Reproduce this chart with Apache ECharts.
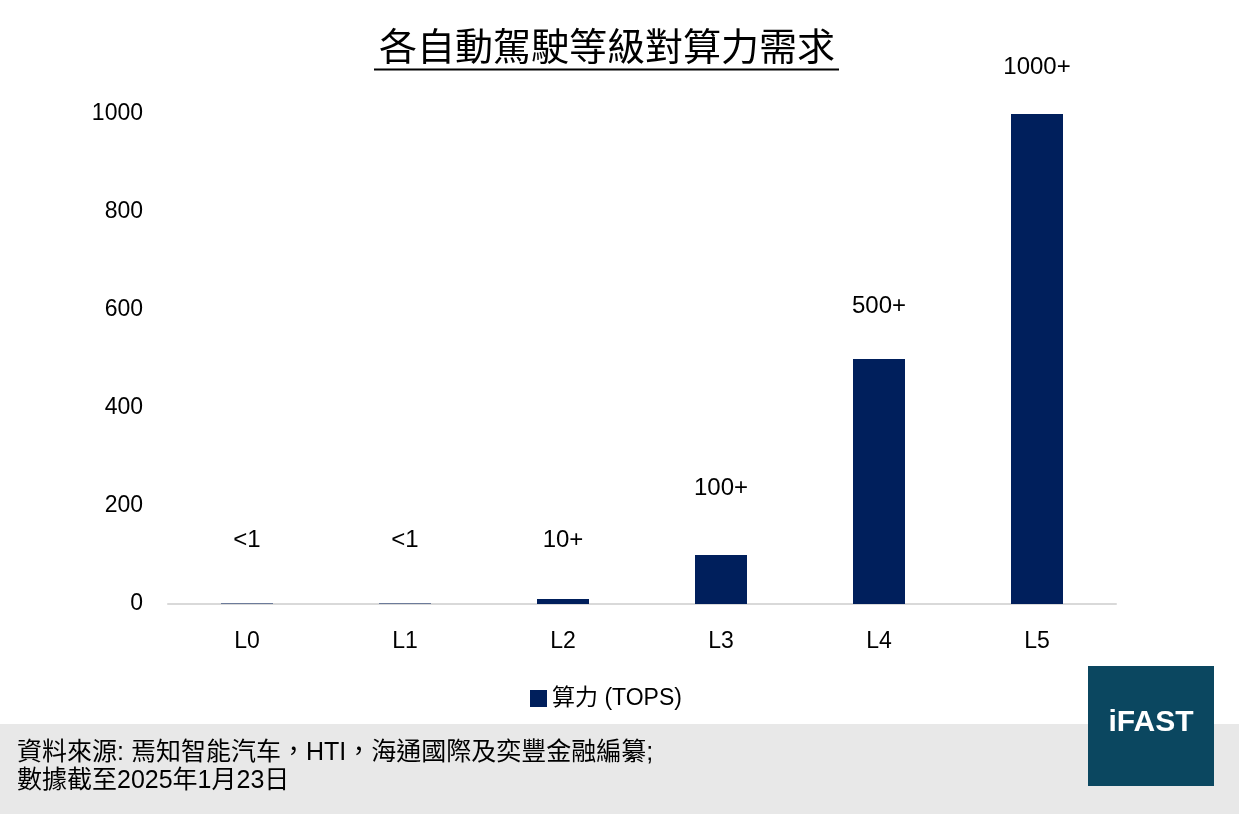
<!DOCTYPE html>
<html>
<head>
<meta charset="utf-8">
<script src="https://cdn.jsdelivr.net/npm/echarts@6/dist/echarts.min.js"></script>
<style>
  html, body { margin: 0; padding: 0; background: #fff; }
  #main { width: 1239px; height: 814px; }
</style>
</head>
<body>
<div id="main"></div>
<script>
// data
var levels = ['L0', 'L1', 'L2', 'L3', 'L4', 'L5'];
var tops = [1, 1, 10, 100, 500, 1000];
var topsLabels = ['<1', '<1', '10+', '100+', '500+', '1000+'];
var seriesName = '算力 (TOPS)';
var titleText = '各自動駕駛等級對算力需求';
var sourceLines = ['資料來源: 焉知智能汽车，HTI，海通國際及奕豐金融編纂;', '數據截至2025年1月23日'];

var labelGap = [51, 51, 47, 55, 41, 35];
var font = '"Liberation Sans", Arial, "Noto Sans CJK TC", sans-serif';

var myChart = echarts.init(document.getElementById('main'));

var barData = tops.map(function (v, i) {
    return {
        value: v,
        label: { distance: labelGap[i] }
    };
});

option = {
    backgroundColor: '#fff',
    textStyle: { fontFamily: font },
    animation: false,
    title: {
        text: titleText,
        left: 374,
        top: 26,
        textStyle: { fontSize: 38, fontWeight: 'normal', color: '#000', fontFamily: font }
    },
    legend: {
        data: [seriesName],
        top: 682,
        left: 525,
        itemWidth: 17,
        itemHeight: 17,
        itemGap: 6,
        icon: 'rect',
        textStyle: { fontSize: 23, color: '#000' }
    },
    grid: {
        left: 168,
        right: 123,
        top: 114,
        bottom: 210
    },
    xAxis: {
        type: 'category',
        data: levels,
        axisTick: { show: false },
        axisLine: { lineStyle: { color: '#d9d9d9', width: 2 } },
        axisLabel: { fontSize: 23, color: '#000', margin: 26 }
    },
    yAxis: {
        type: 'value',
        min: 0,
        max: 1000,
        interval: 200,
        splitLine: { show: false },
        axisLine: { show: false },
        axisTick: { show: false },
        axisLabel: {
            fontSize: 23,
            color: '#000',
            margin: 25,
            formatter: function (v) { return String(v); }
        }
    },
    graphic: [
        {
            type: 'line',
            shape: { x1: 374, y1: 69.5, x2: 839, y2: 69.5 },
            style: { stroke: '#000', lineWidth: 2 }
        },
        {
            type: 'rect',
            shape: { x: 0, y: 724, width: 1239, height: 90 },
            style: { fill: '#e8e8e8' },
            z: -1
        },
        {
            type: 'text',
            left: 17,
            top: 739,
            style: {
                text: sourceLines.join('\n'),
                fill: '#000',
                font: '25px ' + font,
                lineHeight: 28
            }
        },
        {
            type: 'rect',
            shape: { x: 1088, y: 666, width: 126, height: 120 },
            style: { fill: '#0b4760' },
            z: 10
        },
        {
            type: 'text',
            x: 1151,
            y: 723,
            style: {
                text: 'iFAST',
                fill: '#fff',
                font: 'bold 30px ' + font,
                align: 'center',
                verticalAlign: 'middle'
            },
            z: 11
        }
    ],
    series: [
        {
            name: seriesName,
            type: 'bar',
            barWidth: 52,
            itemStyle: { color: '#001f5c' },
            label: {
                show: true,
                position: 'top',
                fontSize: 24,
                color: '#000',
                formatter: function (p) { return topsLabels[p.dataIndex]; }
            },
            data: barData
        }
    ]
};

myChart.setOption(option);
</script>
</body>
</html>
